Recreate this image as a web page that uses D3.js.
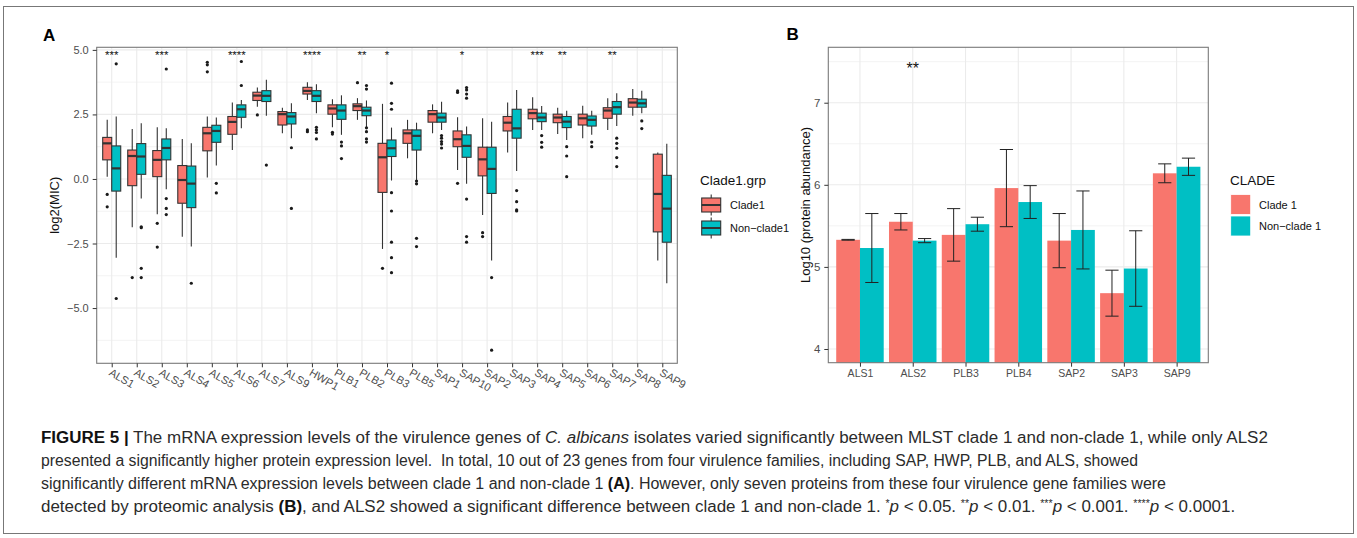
<!DOCTYPE html>
<html>
<head>
<meta charset="utf-8">
<script src="https://cdn.jsdelivr.net/npm/d3@7"></script>
<style>
body { margin: 0; background: #fff; }
svg { display: block; font-family: "Liberation Sans", Arial, sans-serif; }
</style>
</head>
<body>
<script>
// ---- panel A: log2(MIC) boxplots per gene ----
const genesA = ['ALS1', 'ALS2', 'ALS3', 'ALS4', 'ALS5', 'ALS6', 'ALS7', 'ALS9', 'HWP1', 'PLB1', 'PLB2', 'PLB3',
	'PLB5', 'SAP1', 'SAP10', 'SAP2', 'SAP3', 'SAP4', 'SAP5', 'SAP6', 'SAP7', 'SAP8', 'SAP9']
// [lower whisker, Q1, median, Q3, upper whisker]
const clade1Box = [
	[0.09, 0.74, 1.38, 1.61, 2.29], [-1.87, -0.26, 0.89, 1.12, 1.94], [-1.37, 0.09, 0.74, 1.10, 2.00],
	[-2.24, -0.94, -0.04, 0.52, 1.55], [0.06, 1.09, 1.77, 2.00, 2.42], [1.12, 1.73, 2.21, 2.42, 2.96],
	[2.80, 3.04, 3.23, 3.36, 3.54], [1.77, 2.09, 2.51, 2.61, 2.76], [3.06, 3.29, 3.41, 3.55, 3.75],
	[2.00, 2.51, 2.73, 2.87, 3.09], [2.29, 2.65, 2.82, 2.91, 3.13], [-2.71, -0.52, 0.84, 1.38, 2.91],
	[0.80, 1.38, 1.77, 1.90, 2.29], [1.77, 2.20, 2.51, 2.65, 2.89], [0.35, 1.25, 1.54, 1.86, 2.39],
	[-1.40, 0.12, 0.76, 1.23, 2.35], [1.03, 1.86, 2.18, 2.42, 2.96], [1.90, 2.33, 2.55, 2.70, 3.17],
	[1.74, 2.18, 2.38, 2.51, 2.76], [1.58, 2.09, 2.35, 2.51, 2.84], [1.90, 2.35, 2.65, 2.76, 3.13],
	[2.45, 2.78, 2.96, 3.11, 3.48], [-3.16, -2.05, -0.58, 0.96, 1.03],
]
const nonClade1Box = [
	[-3.05, -0.47, 0.41, 1.28, 2.42], [-0.76, 0.18, 0.87, 1.37, 2.16], [-0.40, 0.74, 1.20, 1.55, 1.96],
	[-2.62, -1.11, -0.18, 0.50, 1.38], [0.52, 1.42, 1.86, 2.08, 2.38], [1.96, 2.39, 2.70, 2.87, 3.06],
	[2.45, 3.00, 3.22, 3.42, 3.84], [1.58, 2.13, 2.42, 2.57, 2.93], [2.55, 3.00, 3.22, 3.42, 3.67],
	[1.71, 2.31, 2.65, 2.87, 3.24], [1.96, 2.45, 2.65, 2.78, 3.04], [-0.06, 0.87, 1.19, 1.51, 1.99],
	[-0.04, 1.12, 1.67, 1.90, 2.18], [1.90, 2.20, 2.38, 2.55, 2.99], [-0.19, 0.84, 1.28, 1.71, 2.03],
	[-3.16, -0.56, 0.39, 1.23, 2.22], [0.31, 1.58, 1.96, 2.70, 3.45], [1.90, 2.22, 2.38, 2.55, 2.83],
	[1.51, 1.99, 2.22, 2.42, 2.64], [1.71, 2.05, 2.29, 2.44, 2.64], [2.05, 2.51, 2.78, 3.00, 3.32],
	[2.55, 2.78, 2.93, 3.09, 3.42], [-4.04, -2.45, -1.15, 0.14, 1.36],
]
const clade1Out = [
	[-0.60, -1.08], [-3.82], [-1.72, -2.64], [], [4.52, 4.42, 4.15], [], [2.48], [], [1.90, 1.83],
	[1.81, 1.74], [3.73], [-3.46], [], [], [3.41, 3.35, -0.17], [-2.08, -2.23], [], [], [], [], [], [], [],
]
const nonClade1Out = [
	[4.46, -4.63], [-1.85, -1.89, -3.46, -3.82], [4.26, -0.76, -1.14, -1.38], [-4.04], [-0.17, -0.54],
	[4.55, 3.62], [0.54], [1.21, -1.14], [2.00, 1.90, 1.80, 1.55], [1.43, 1.28, 0.79],
	[3.62, 3.48, 1.98, 1.83, 1.55, 1.43], [3.71, 2.93, 2.70, -0.53, -1.24, -2.45, -3.05, -3.63],
	[-0.08, -0.19, -2.30, -2.62], [1.68, 1.58, 1.45, 1.35, 1.20], [3.54, 3.45, 3.29, 3.13, -0.78, -2.23, -2.45],
	[-3.82, -6.63], [-0.45, -0.88, -1.20, -1.24], [1.68, 1.42, 1.23], [1.25, 0.89, 0.09], [1.43, 1.25],
	[1.58, 1.38, 1.19, 0.83, 0.48], [2.25, 1.95], [],
]
const sigA = ['***', '', '***', '', '', '****', '', '', '****', '', '**', '*', '', '', '*', '', '', '***', '**', '', '**', '', '']
const ticksA = [-5, -2.5, 0, 2.5, 5]
const groupsA = ['Clade1', 'Non\u2212clade1']

// ---- panel B: protein abundance bars ----
const genesB = ['ALS1', 'ALS2', 'PLB3', 'PLB4', 'SAP2', 'SAP3', 'SAP9']
const clade1Mean = [5.33, 5.55, 5.39, 5.96, 5.32, 4.68, 6.14]
const clade1Err = [0.005, 0.10, 0.32, 0.47, 0.33, 0.28, 0.115]
const nonClade1Mean = [5.23, 5.32, 5.52, 5.79, 5.45, 4.98, 6.22]
const nonClade1Err = [0.42, 0.025, 0.085, 0.20, 0.475, 0.46, 0.105]
const sigB = ['', '**', '', '', '', '', '']
const ticksB = [4, 5, 6, 7]
const groupsB = ['Clade 1', 'Non\u2212clade 1']

const caption = [
	[['FIGURE 5 |', 'b'], [' The mRNA expression levels of the virulence genes of ', ''], ['C. albicans', 'i'],
		[' isolates varied significantly between MLST clade 1 and non-clade 1, while only ALS2', '']],
	[['presented a significantly higher protein expression level.  In total, 10 out of 23 genes from four virulence families, including SAP, HWP, PLB, and ALS, showed', '']],
	[['significantly different mRNA expression levels between clade 1 and non-clade 1 ', ''], ['(A)', 'b'],
		['. However, only seven proteins from these four virulence gene families were', '']],
	[['detected by proteomic analysis ', ''], ['(B)', 'b'],
		[', and ALS2 showed a significant difference between clade 1 and non-clade 1. ', ''],
		['*', 's'], ['p', 'i'], [' < 0.05. ', ''], ['**', 's'], ['p', 'i'], [' < 0.01. ', ''],
		['***', 's'], ['p', 'i'], [' < 0.001. ', ''], ['****', 's'], ['p', 'i'], [' < 0.0001.', '']],
]
const captionWidth = [1280, 1097, 1125, 1298]

const red = '#F8766D', teal = '#00BFC4', gridCol = '#ebebeb', ink = '#333333', tickCol = '#4d4d4d'
const fills = [red, teal]

const svg = d3.select('body').append('svg').attr('width', 1357).attr('height', 538)
svg.append('rect').attr('x', 3.5).attr('y', 6.5).attr('width', 1350).attr('height', 527)
	.attr('fill', 'none').attr('stroke', '#777')

function panel(box, xs, ys, minor) {
	const g = svg.append('g')
	g.append('rect').attr('x', box.l).attr('y', box.t).attr('width', box.r - box.l).attr('height', box.b - box.t)
		.attr('fill', '#fff')
	g.selectAll('line.minor').data(minor).join('line').classed('minor', true)
		.attr('x1', box.l).attr('x2', box.r).attr('y1', ys).attr('y2', ys)
		.attr('stroke', gridCol).attr('stroke-width', 0.6)
	g.selectAll('line.hmajor').data(ys.ticksList).join('line').classed('hmajor', true)
		.attr('x1', box.l).attr('x2', box.r).attr('y1', ys).attr('y2', ys)
		.attr('stroke', gridCol).attr('stroke-width', 1.1)
	g.selectAll('line.vmajor').data(xs.domain()).join('line').classed('vmajor', true)
		.attr('x1', xs).attr('x2', xs).attr('y1', box.t).attr('y2', box.b)
		.attr('stroke', gridCol).attr('stroke-width', 1.1)
	return g
}

// ---------- A ----------
const A = { l: 96.7, t: 47.3, r: 677.3, b: 363.3 }
const xA = d3.scalePoint().domain(genesA).range([A.l, A.r]).padding(0.6)
const yA = d3.scaleLinear().domain([-7.14, 5.1]).range([A.b, A.t])
yA.ticksList = ticksA
const gA = panel(A, xA, yA, [-6.25, -3.75, -1.25, 1.25, 3.75])
const bw = xA.step() * 0.36

;[clade1Box, nonClade1Box].forEach((stats, k) => {
	const outs = k === 0 ? clade1Out : nonClade1Out
	const grp = gA.append('g')
	stats.forEach((s, i) => {
		const cx = xA(genesA[i]) + (k - 0.5) * bw
		const [lo, q1, md, q3, hi] = s
		grp.append('line').attr('x1', cx).attr('x2', cx).attr('y1', yA(hi)).attr('y2', yA(q3))
			.attr('stroke', ink).attr('stroke-width', 1.1)
		grp.append('line').attr('x1', cx).attr('x2', cx).attr('y1', yA(q1)).attr('y2', yA(lo))
			.attr('stroke', ink).attr('stroke-width', 1.1)
		grp.append('rect').attr('x', cx - bw / 2).attr('width', bw)
			.attr('y', yA(q3)).attr('height', yA(q1) - yA(q3))
			.attr('fill', fills[k]).attr('stroke', ink).attr('stroke-width', 1.1)
		grp.append('line').attr('x1', cx - bw / 2).attr('x2', cx + bw / 2).attr('y1', yA(md)).attr('y2', yA(md))
			.attr('stroke', ink).attr('stroke-width', 2.2)
		grp.selectAll(null).data(outs[i]).join('circle')
			.attr('cx', cx).attr('cy', d => yA(d)).attr('r', 1.6).attr('fill', '#1a1a1a')
	})
})

gA.selectAll('text.sig').data(genesA).join('text').classed('sig', true)
	.attr('x', d => xA(d)).attr('y', 59)
	.attr('text-anchor', 'middle').attr('font-size', 11.5).attr('fill', '#111')
	.text((d, i) => sigA[i])

gA.append('rect').attr('x', A.l).attr('y', A.t).attr('width', A.r - A.l).attr('height', A.b - A.t)
	.attr('fill', 'none').attr('stroke', '#7a7a7a').attr('stroke-width', 1.1)

const axYA = svg.append('g').attr('transform', `translate(${A.l},0)`)
	.call(d3.axisLeft(yA).tickValues(ticksA).tickSize(4).tickPadding(4).tickFormat(d3.format('.1f')))
axYA.select('.domain').remove()
axYA.selectAll('line').attr('stroke', ink)
axYA.selectAll('text').attr('fill', tickCol).attr('font-size', 11).attr('font-family', null)

const axXA = svg.append('g').attr('transform', `translate(0,${A.b})`)
	.call(d3.axisBottom(xA).tickSize(4))
axXA.select('.domain').remove()
axXA.selectAll('line').attr('stroke', ink)
axXA.selectAll('text').attr('fill', tickCol).attr('font-size', 11).attr('font-family', null)
	.attr('y', 0).attr('dy', 0).attr('text-anchor', 'start')
	.attr('transform', 'translate(-4,11.5) rotate(30)')

svg.append('text').attr('transform', `translate(59,${(A.t + A.b) / 2}) rotate(-90)`)
	.attr('text-anchor', 'middle').attr('font-size', 13).attr('fill', '#111').text('log2(MIC)')
svg.append('text').attr('x', 43).attr('y', 40.5).attr('font-size', 17).attr('font-weight', 'bold').text('A')

// legend A
const legA = svg.append('g')
legA.append('text').attr('x', 700).attr('y', 184.5).attr('font-size', 13.5).attr('fill', '#111').text('Clade1.grp')
groupsA.forEach((lab, k) => {
	const cy = 205 + k * 23, x0 = 701.7, w = 19
	legA.append('line').attr('x1', x0 + w / 2).attr('x2', x0 + w / 2).attr('y1', cy - 10.5).attr('y2', cy + 10.5)
		.attr('stroke', ink).attr('stroke-width', 1.1)
	legA.append('rect').attr('x', x0).attr('y', cy - 7).attr('width', w).attr('height', 14)
		.attr('fill', fills[k]).attr('stroke', ink).attr('stroke-width', 1.1)
	legA.append('line').attr('x1', x0).attr('x2', x0 + w).attr('y1', cy).attr('y2', cy)
		.attr('stroke', ink).attr('stroke-width', 2)
	legA.append('text').attr('x', 730).attr('y', cy + 4).attr('font-size', 11).attr('fill', '#111').text(lab)
})

// ---------- B ----------
const B = { l: 828.3, t: 47.3, r: 1208.3, b: 362.7 }
const xB = d3.scalePoint().domain(genesB).range([B.l, B.r]).padding(0.6)
const yB = d3.scaleLinear().domain([3.833, 7.675]).range([B.b, B.t])
yB.ticksList = ticksB
const gB = panel(B, xB, yB, [4.5, 5.5, 6.5, 7.5])
const barW = xB.step() * 0.45
const capW = xB.step() * 0.25

;[[clade1Mean, clade1Err], [nonClade1Mean, nonClade1Err]].forEach(([means, errs], k) => {
	const grp = gB.append('g')
	grp.selectAll('rect').data(means).join('rect')
		.attr('x', (d, i) => xB(genesB[i]) + (k - 1) * barW)
		.attr('width', barW)
		.attr('y', d => yB(d)).attr('height', d => B.b - yB(d))
		.attr('fill', fills[k])
	means.forEach((m, i) => {
		const cx = xB(genesB[i]) + (k - 0.5) * barW
		const top = yB(m + errs[i]), bot = yB(m - errs[i])
		grp.append('path')
			.attr('d', `M${cx - capW / 2},${top}H${cx + capW / 2}M${cx},${top}V${bot}M${cx - capW / 2},${bot}H${cx + capW / 2}`)
			.attr('fill', 'none').attr('stroke', '#222').attr('stroke-width', 1)
	})
})

gB.selectAll('text.sig').data(genesB).join('text').classed('sig', true)
	.attr('x', d => xB(d)).attr('y', 74)
	.attr('text-anchor', 'middle').attr('font-size', 16).attr('fill', '#111')
	.text((d, i) => sigB[i])

gB.append('rect').attr('x', B.l).attr('y', B.t).attr('width', B.r - B.l).attr('height', B.b - B.t)
	.attr('fill', 'none').attr('stroke', '#7a7a7a').attr('stroke-width', 1.1)

const axYB = svg.append('g').attr('transform', `translate(${B.l},0)`)
	.call(d3.axisLeft(yB).tickValues(ticksB).tickSize(4).tickPadding(4).tickFormat(d3.format('d')))
axYB.select('.domain').remove()
axYB.selectAll('line').attr('stroke', ink)
axYB.selectAll('text').attr('fill', tickCol).attr('font-size', 11.5).attr('font-family', null)

const axXB = svg.append('g').attr('transform', `translate(0,${B.b})`)
	.call(d3.axisBottom(xB).tickSize(4).tickPadding(3))
axXB.select('.domain').remove()
axXB.selectAll('line').attr('stroke', ink)
axXB.selectAll('text').attr('fill', tickCol).attr('font-size', 10.5).attr('font-family', null)

svg.append('text').attr('transform', `translate(810,${(B.t + B.b) / 2}) rotate(-90)`)
	.attr('text-anchor', 'middle').attr('font-size', 13).attr('fill', '#111').text('Log10 (protein abundance)')
svg.append('text').attr('x', 786.5).attr('y', 40).attr('font-size', 17).attr('font-weight', 'bold').text('B')

// legend B
const legB = svg.append('g')
legB.append('text').attr('x', 1230).attr('y', 184.5).attr('font-size', 13.5).attr('fill', '#111').text('CLADE')
groupsB.forEach((lab, k) => {
	const y0 = 194.5 + k * 21.5
	legB.append('rect').attr('x', 1230.7).attr('y', y0).attr('width', 20).attr('height', 20)
		.attr('fill', fills[k]).attr('stroke', '#fff').attr('stroke-width', 0.8)
	legB.append('text').attr('x', 1259).attr('y', y0 + 14).attr('font-size', 11).attr('fill', '#111').text(lab)
})

// ---------- caption ----------
// natural layout at 16px; each line is only nudged a little towards the measured width
const cap = svg.append('g').attr('font-size', 16).attr('fill', '#2b2b2b')
caption.forEach((segs, li) => {
	const t = cap.append('text').attr('x', 41).attr('y', 443 + li * 23).style('white-space', 'pre')
	segs.forEach(([s, st]) => {
		const ts = t.append('tspan').text(s)
		if (st === 'b') ts.attr('font-weight', 'bold').attr('fill', '#111')
		if (st === 'i') ts.attr('font-style', 'italic')
		if (st === 's') ts.attr('font-size', 10).attr('baseline-shift', 'super')
	})
	const w = t.node().getComputedTextLength()
	const k = Math.max(0.97, Math.min(1.06, captionWidth[li] / w))
	t.attr('textLength', w * k).attr('lengthAdjust', 'spacingAndGlyphs')
})
</script>
</body>
</html>
